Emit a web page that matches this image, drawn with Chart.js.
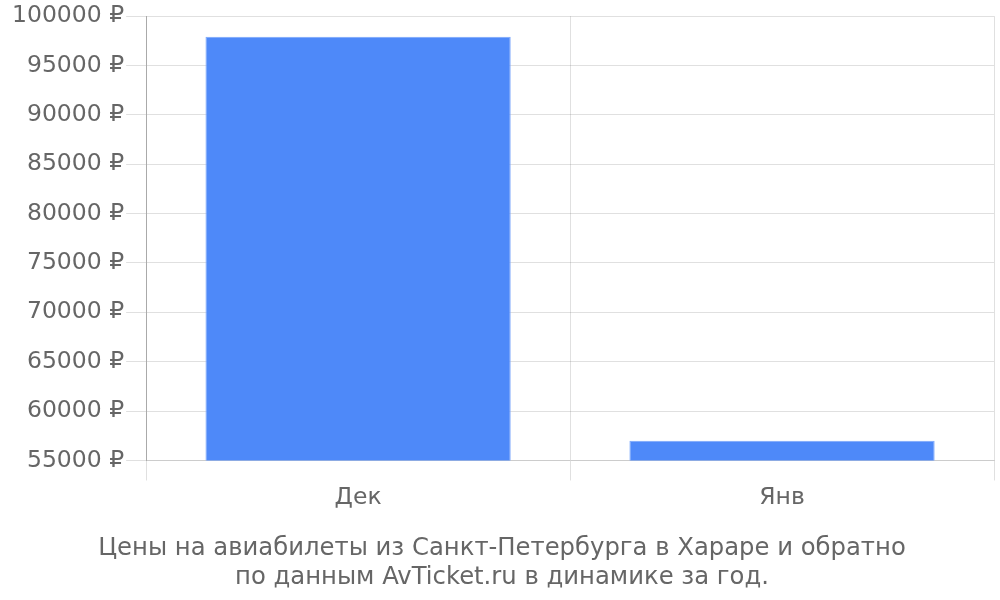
<!DOCTYPE html>
<html><head><meta charset="utf-8">
<script src="https://cdn.jsdelivr.net/npm/chart.js@4"></script>
<style>html,body{margin:0;padding:0;background:#fff}#w{width:1000px;height:600px}</style>
</head><body><div id="w"><canvas id="c"></canvas></div>
<script>
const categories = ["Дек", "Янв"];
const prices = [97900, 57000];
const titleLines = ["Цены на авиабилеты из Санкт-Петербурга в Хараре и обратно", "по данным AvTicket.ru в динамике за год."];

Chart.defaults.font.family = "'DejaVu Sans', sans-serif";
Chart.defaults.font.size = 23.5;
Chart.defaults.color = "#666";

new Chart(document.getElementById('c'), {
  type: 'bar',
  data: {
    labels: categories,
    datasets: [{
      data: prices,
      backgroundColor: '#4e89f9',
      borderColor: '#7aa6fb',
      borderWidth: 1
    }]
  },
  options: {
    responsive: true,
    maintainAspectRatio: false,
    animation: false,
    layout: { padding: { left: 10, right: 6, top: 0, bottom: 0 } },
    plugins: {
      legend: { display: false },
      tooltip: { enabled: false },
      title: {
        display: true,
        position: 'bottom',
        text: titleLines,
        color: '#666',
        font: { size: 24.3, weight: 'normal' },
        padding: { top: 19, bottom: 8 },
        lineHeight: 1.2
      }
    },
    scales: {
      x: {
        grid: { color: 'rgba(0,0,0,0.12)', tickLength: 20, offset: true },
        border: { color: '#ccc' },
        ticks: { padding: 3 }
      },
      y: {
        min: 55000,
        max: 100000,
        ticks: { stepSize: 5000, padding: 2, callback: v => v + ' ₽' },
        grid: { color: 'rgba(0,0,0,0.12)', tickLength: 20 },
        border: { color: '#aaa' }
      }
    }
  }
});
</script></body></html>
